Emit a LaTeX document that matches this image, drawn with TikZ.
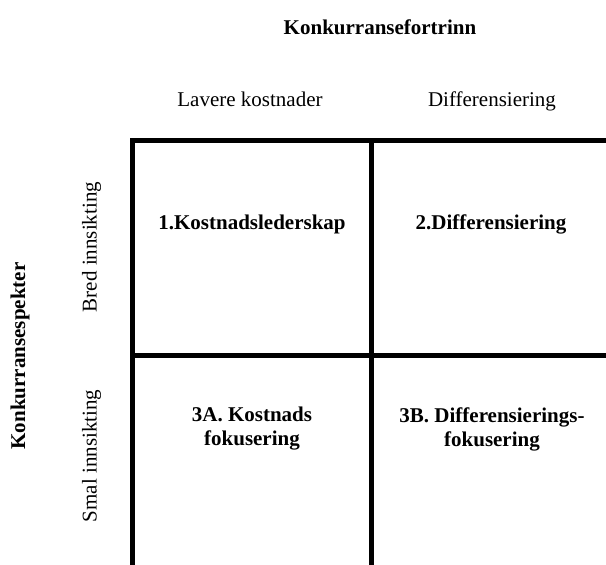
\documentclass[tikz,border=0pt]{standalone}
\usepackage{fontspec}
\setmainfont{Liberation Serif}

\begin{document}
\begin{tikzpicture}[x=1pt,y=-1pt]

\tikzset{GridLine/.style={line width=4.5pt},
  HeadText/.style={font=\fontsize{21}{24}\selectfont\bfseries},
  AxisText/.style={font=\fontsize{21}{24}\selectfont},
  CellText/.style={font=\fontsize{21}{24}\selectfont\bfseries,align=center}}

  \useasboundingbox (0,0) rectangle (606,565);
  \clip (0,0) rectangle (606,565);

  \node[HeadText] (fortrinn) at (380, 27) {Konkurransefortrinn};
  \node[HeadText,rotate=90] (spekter) at (20, 356) {Konkurransespekter};

  \node[AxisText,anchor=base] (lavere) at (250, 106.5) {Lavere kostnader};
  \node[AxisText,anchor=base] (diff) at (492, 106.5) {Differensiering};
  \node[AxisText,rotate=90] (bred) at (91.5, 247) {Bred innsikting};
  \node[AxisText,rotate=90] (smal) at (91.5, 456) {Smal innsikting};

  \draw[GridLine] (606, 140.5) -- (132.5, 140.5) -- (132.5, 565);
  \draw[GridLine] (371.5, 140.5) -- (371.5, 565);
  \draw[GridLine] (132.5, 355.5) -- (606, 355.5);

  \node[CellText] (c1) at (252, 224.5) {1.Kostnadslederskap};
  \node[CellText] (c2) at (491, 224.5) {2.Differensiering};
  \node[CellText] (c3a) at (252, 429) {3A. Kostnads\\fokusering};
  \node[CellText] (c3b) at (492, 429) {3B. Differensierings-\\fokusering};

\end{tikzpicture}
\end{document}
